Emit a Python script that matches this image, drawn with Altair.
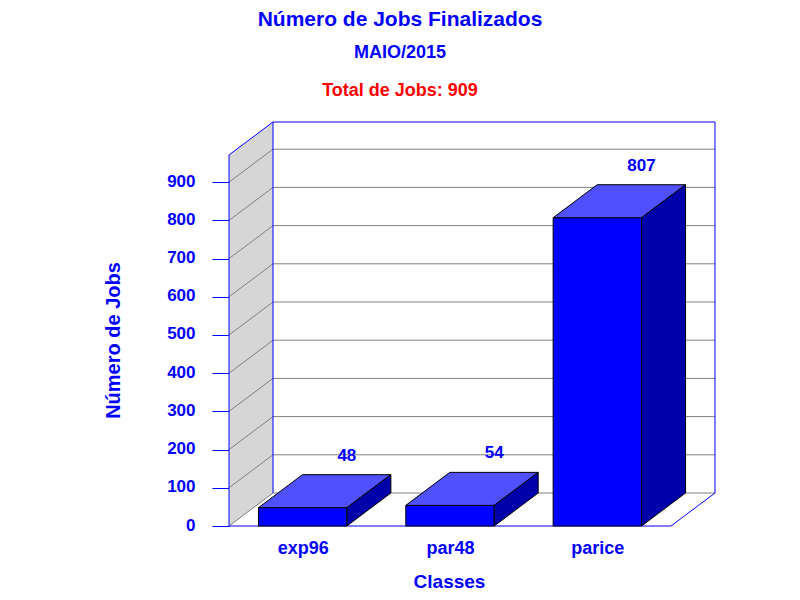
import altair as alt
import pandas as pd

categories = ["exp96", "par48", "parice"]
values = [48, 54, 807]
y_ticks = [0, 100, 200, 300, 400, 500, 600, 700, 800, 900]

FONT = "Liberation Sans"
BLUE = "#0000ff"
DX = 0.29865    # depth of the 3D box, in category slots
DY = 86.39      # depth of the 3D box, in value units
TOP = 971.2     # height of the front edge of the wall, in value units
N = len(categories)
BAR_L, BAR_R = 0.2, 0.8

x_scale = alt.Scale(domain=[0, N + DX], nice=False, zero=False)
y_scale = alt.Scale(domain=[0, TOP + DY], nice=False, zero=False)

label_expr = "[" + ",".join(f"'{c}'" for c in categories) + "][floor(datum.value)]"
x_axis = alt.Axis(
    values=[i + 0.5 for i in range(N)], labelExpr=label_expr, grid=False, domain=False, ticks=False,
    labelColor=BLUE, labelFont=FONT, labelFontSize=18, labelFontWeight="bold", labelPadding=13,
    labelFlush=False, labelOverlap=False,
    titleColor=BLUE, titleFont=FONT, titleFontSize=19, titleFontWeight="bold",
    titleX=220, titleY=46)
y_axis = alt.Axis(
    values=y_ticks, grid=False, domain=False, tickColor=BLUE, tickSize=17, tickWidth=1,
    labelColor=BLUE, labelFont=FONT, labelFontSize=17, labelFontWeight="bold", labelPadding=17,
    labelOffset=-1, labelOverlap=False, labelFlush=False,
    titleColor=BLUE, titleFont=FONT, titleFontSize=20, titleFontWeight="bold",
    titleX=-106, titleY=218)

X = alt.X("x:Q", scale=x_scale, title="Classes", axis=x_axis)
Y = alt.Y("y:Q", scale=y_scale, title="Número de Jobs", axis=y_axis)
X2 = alt.X2("x2:Q")
Y2 = alt.Y2("y2:Q")

# side wall
wall = alt.Chart(pd.DataFrame([
    {"x": 0, "y": 0, "y2": TOP},
    {"x": DX, "y": DY, "y2": TOP + DY},
])).mark_area(color="#d6d6d6").encode(X, Y, Y2)

# grid lines: on the side wall and on the back wall
grid_rows = []
for t in y_ticks:
    grid_rows.append({"t": t, "o": 0, "x": 0, "y": t})
    grid_rows.append({"t": t, "o": 1, "x": DX, "y": t + DY})
    grid_rows.append({"t": t, "o": 2, "x": N + DX, "y": t + DY})
grid = alt.Chart(pd.DataFrame(grid_rows)).mark_line(color="#808080", strokeWidth=1).encode(
    X, Y, detail="t:N", order="o:Q")

# blue frame
frame_paths = {
    "wall": [(0, 0), (0, TOP), (DX, TOP + DY), (N + DX, TOP + DY), (N + DX, DY), (N, 0), (0, 0)],
    "back": [(DX, DY), (DX, TOP + DY)],
}
frame_rows = []
for name, pts in frame_paths.items():
    for o, (px, py) in enumerate(pts):
        frame_rows.append({"p": name, "o": o, "x": px, "y": py})
frame = alt.Chart(pd.DataFrame(frame_rows)).mark_line(color=BLUE, strokeWidth=1).encode(
    X, Y, detail="p:N", order="o:Q")

# bars
front = pd.DataFrame([
    {"c": c, "x": i + BAR_L, "x2": i + BAR_R, "y": 0, "y2": v}
    for i, (c, v) in enumerate(zip(categories, values))])
front_faces = alt.Chart(front).mark_rect(color=BLUE, stroke="black", strokeWidth=1).encode(X, X2, Y, Y2)

top_rows, side_rows = [], []
for i, (c, v) in enumerate(zip(categories, values)):
    top_rows.append({"c": c, "y": v, "x": i + BAR_L, "x2": i + BAR_R})
    top_rows.append({"c": c, "y": v + DY, "x": i + BAR_L + DX, "x2": i + BAR_R + DX})
    side_rows.append({"c": c, "x": i + BAR_R, "y": 0, "y2": v})
    side_rows.append({"c": c, "x": i + BAR_R + DX, "y": DY, "y2": v + DY})
top_faces = alt.Chart(pd.DataFrame(top_rows)).mark_area(
    orient="horizontal", color="#5050ff", stroke="black", strokeWidth=1
).encode(X, X2, Y, detail="c:N")
side_faces = alt.Chart(pd.DataFrame(side_rows)).mark_area(
    color="#0000aa", stroke="black", strokeWidth=1
).encode(X, Y, Y2, detail="c:N")

# value labels
labels = alt.Chart(pd.DataFrame([
    {"x": i + BAR_R, "y": v + DY, "t": str(v)} for i, v in enumerate(values)
])).mark_text(font=FONT, fontSize=17, fontWeight="bold", color=BLUE, dy=-19, baseline="middle").encode(
    X, Y, text="t:N")

# third heading line
total = alt.Chart(pd.DataFrame({"t": [f"Total de Jobs: {sum(values)}"]})).mark_text(
    font=FONT, fontSize=18, fontWeight="bold", color="#ff0000", baseline="middle"
).encode(x=alt.value(171), y=alt.value(-31), text="t:N")

chart = alt.layer(wall, grid, frame, front_faces, top_faces, side_faces, labels, total).properties(
    width=486,
    height=404,
    padding={"left": 221, "top": 114, "right": 77, "bottom": 66},
    autosize=alt.AutoSizeParams(type="none"),
    title=alt.TitleParams(
        text="Número de Jobs Finalizados", subtitle="MAIO/2015",
        font=FONT, fontSize=21, fontWeight="bold", color=BLUE,
        subtitleFont=FONT, subtitleFontSize=18, subtitleFontWeight="bold", subtitleColor=BLUE,
        subtitlePadding=14, anchor="middle", frame="group", dx=-72, offset=20,
    ),
).configure_view(stroke=None)

chart.save("out.html", embed_options={"renderer": "svg", "actions": False})
